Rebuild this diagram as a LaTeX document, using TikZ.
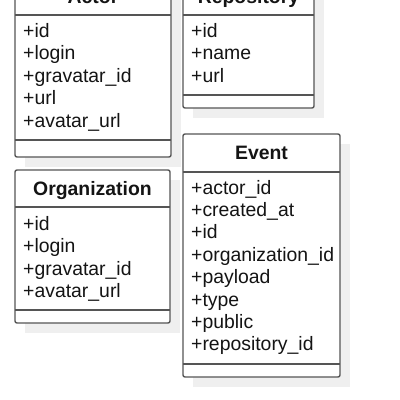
\documentclass[tikz,border=0pt]{standalone}
\usepackage{fontspec}
\setmainfont{Liberation Sans}
\definecolor{linegray}{HTML}{555555}
\definecolor{shadowgray}{HTML}{EFEFEF}
\definecolor{textdark}{HTML}{141414}
\begin{document}
\begin{tikzpicture}[x=1pt,y=-1pt]
\tikzset{
  boxline/.style={draw=linegray, line width=1.4pt, rounded corners=2pt, fill=white},
  sepline/.style={draw=linegray, line width=1.4pt},
  shadowfill/.style={fill=shadowgray, draw=none},
  attr/.style={anchor=base west, inner sep=0pt, text=textdark, font=\fontsize{19.4}{22}\selectfont},
  ttl/.style={anchor=base, inner sep=0pt, text=textdark, font=\bfseries\fontsize{19.4}{22}\selectfont},
}
\useasboundingbox (0,0) rectangle (400,400);
\fill[white] (0,0) rectangle (400,400);
% shadows
\path[shadowfill] (25,-12) rectangle (181,167);
\path[shadowfill] (193,-12) rectangle (324,118);
\path[shadowfill] (25,180) rectangle (180,333);
\path[shadowfill] (193,144) rectangle (350,387);
% Actor
\path[boxline] (15,-22) rectangle (171,157);
\draw[sepline] (15,15) -- (171,15);
\draw[sepline] (15,140) -- (171,140);
\node[ttl] (actorT) at (93,3) {Actor};
\node[attr] (actor1) at (23,37) {+id};
\node[attr] (actor2) at (23,59.5) {+login};
\node[attr] (actor3) at (23,82) {+gravatar\_id};
\node[attr] (actor4) at (23,104.5) {+url};
\node[attr] (actor5) at (23,127) {+avatar\_url};
% Repository
\path[boxline] (183,-22) rectangle (314,108);
\draw[sepline] (183,15) -- (314,15);
\draw[sepline] (183,95) -- (314,95);
\node[ttl] (repoT) at (248.5,3.5) {Repository};
\node[attr] (repo1) at (191,37) {+id};
\node[attr] (repo2) at (191,59.5) {+name};
\node[attr] (repo3) at (191,82) {+url};
% Organization
\path[boxline] (15,170) rectangle (170,323);
\draw[sepline] (15,207) -- (170,207);
\draw[sepline] (15,310) -- (170,310);
\node[ttl] (orgT) at (92.5,195) {Organization};
\node[attr] (org1) at (23,230) {+id};
\node[attr] (org2) at (23,252.5) {+login};
\node[attr] (org3) at (23,275) {+gravatar\_id};
\node[attr] (org4) at (23,297.5) {+avatar\_url};
% Event
\path[boxline] (183,134) rectangle (340,377);
\draw[sepline] (183,172) -- (340,172);
\draw[sepline] (183,364) -- (340,364);
\node[ttl] (eventT) at (261.5,159.5) {Event};
\node[attr] (ev1) at (191,194) {+actor\_id};
\node[attr] (ev2) at (191,216.4) {+created\_at};
\node[attr] (ev3) at (191,238.8) {+id};
\node[attr] (ev4) at (191,261.2) {+organization\_id};
\node[attr] (ev5) at (191,283.6) {+payload};
\node[attr] (ev6) at (191,306) {+type};
\node[attr] (ev7) at (191,328.4) {+public};
\node[attr] (ev8) at (191,350.8) {+repository\_id};
\end{tikzpicture}
\end{document}
